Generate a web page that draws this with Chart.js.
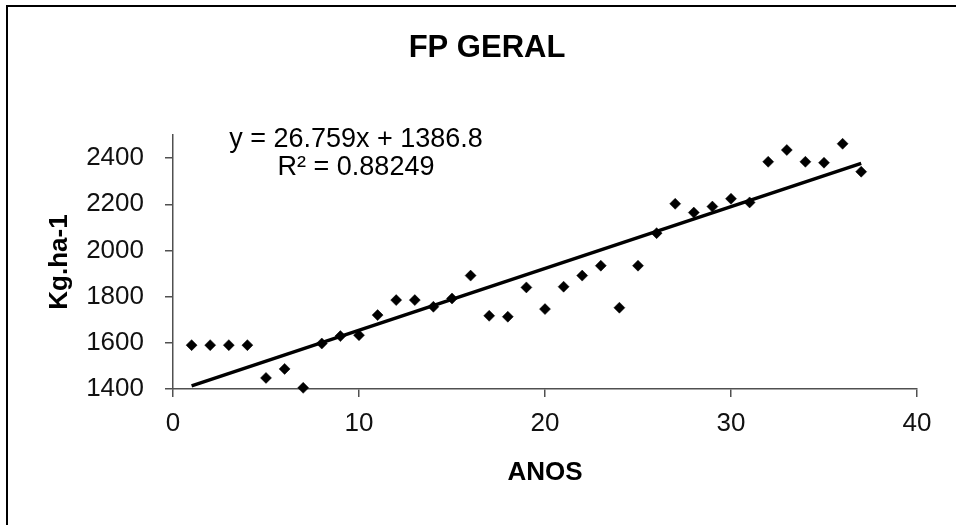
<!DOCTYPE html>
<html>
<head>
<meta charset="utf-8">
<script src="https://cdn.jsdelivr.net/npm/chart.js@4/dist/chart.umd.min.js"></script>
<style>
  html, body { margin: 0; padding: 0; background: #fff; overflow: hidden; }
  #wrap { position: relative; width: 956px; height: 525px; }
  #frame {
    position: absolute; left: 6px; top: 5px; width: 970px; height: 540px;
    border-left: 2px solid #000; border-top: 2px solid #000;
    pointer-events: none;
  }
</style>
</head>
<body>
<div id="wrap">
  <canvas id="grafico" width="956" height="525"></canvas>
  <div id="frame"></div>
</div>
<script>
const anos = [1, 2, 3, 4, 5, 6, 7, 8, 9, 10, 11, 12, 13, 14, 15, 16, 17, 18, 19,
  20, 21, 22, 23, 24, 25, 26, 27, 28, 29, 30, 31, 32, 33, 34, 35, 36, 37];
const producao = [1590, 1590, 1590, 1590, 1448, 1487, 1405, 1597, 1629, 1633,
  1720, 1785, 1785, 1756, 1792, 1891, 1717, 1713, 1840, 1746,
  1843, 1891, 1934, 1752, 1934, 2075, 2202, 2164, 2190, 2224,
  2208, 2384, 2435, 2384, 2380, 2462, 2341];
const xTicks = [0, 10, 20, 30, 40];
const yTicks = [1400, 1600, 1800, 2000, 2200, 2400];

// linha de tendencia (valores da equacao mostrada no grafico)
const inclinacao = 26.759;
const intercepto = 1386.8;
const r2 = 0.88249;
const tendX = [1, 37];

const titulo = "FP GERAL";
const fonte = "'Liberation Sans', Arial, sans-serif";
const ctx = document.getElementById("grafico");

const pontos = anos.map((a, i) => ({ x: a, y: producao[i] }));
const tendencia = tendX.map(a => ({ x: a, y: inclinacao * a + intercepto }));

// titulo e equacao da tendencia
const textos = {
  id: "textos",
  afterDatasetsDraw(chart) {
    const c = chart.ctx;
    const area = chart.chartArea;
    c.save();
    c.fillStyle = "#000";
    c.textAlign = "center";
    c.textBaseline = "middle";
    c.font = "bold 31px " + fonte;
    c.fillText(titulo, 487, 48);
    c.font = "27px " + fonte;
    const cx = area.left + 183;
    c.fillText(`y = ${inclinacao}x + ${intercepto}`, cx, area.top + 5);
    c.fillText(`R² = ${r2}`, cx, area.top + 33);
    c.restore();
  }
};

new Chart(ctx, {
  type: "scatter",
  data: {
    datasets: [
      {
        label: "Tendência",
        type: "line",
        data: tendencia,
        borderColor: "#000",
        borderWidth: 3.5,
        pointRadius: 0,
        fill: false,
        order: 0
      },
      {
        label: titulo,
        data: pontos,
        pointStyle: "rectRot",
        pointRadius: 5.5,
        backgroundColor: "#000",
        borderColor: "#000",
        borderWidth: 0.5,
        clip: false,
        order: 1
      }
    ]
  },
  plugins: [textos],
  options: {
    responsive: false,
    animation: false,
    layout: { padding: { top: 135, right: 39, bottom: 0, left: 0 } },
    plugins: {
      legend: { display: false },
      tooltip: { enabled: false },
      title: { display: false }
    },
    scales: {
      x: {
        type: "linear",
        min: 0,
        max: 40,
        afterBuildTicks: (s) => { s.ticks = xTicks.map(v => ({ value: v })); },
        afterFit: (s) => { s.height = 136; },
        grid: { drawOnChartArea: false, drawTicks: true, tickLength: 8, color: "#505050", lineWidth: 1.5 },
        border: { display: true, color: "#505050", width: 1.5 },
        ticks: { color: "#111", padding: 11, font: { family: fonte, size: 26 } },
        title: {
          display: true,
          text: "ANOS",
          color: "#000",
          font: { family: fonte, size: 26, weight: "bold" },
          padding: { top: 0, bottom: 37 }
        }
      },
      y: {
        type: "linear",
        min: 1400,
        max: 2500,
        afterBuildTicks: (s) => { s.ticks = yTicks.map(v => ({ value: v })); },
        afterFit: (s) => { s.width = 173; },
        grid: { drawOnChartArea: false, drawTicks: true, tickLength: 8, color: "#505050", lineWidth: 1.5 },
        border: { display: true, color: "#505050", width: 1.5 },
        ticks: {
          color: "#111",
          padding: 21,
          font: { family: fonte, size: 26 },
          callback: (v) => String(v)
        },
        title: {
          display: true,
          text: "Kg.ha-1",
          color: "#000",
          font: { family: fonte, size: 26, weight: "bold" },
          padding: { top: 44, bottom: 0 }
        }
      }
    }
  }
});
</script>
</body>
</html>
